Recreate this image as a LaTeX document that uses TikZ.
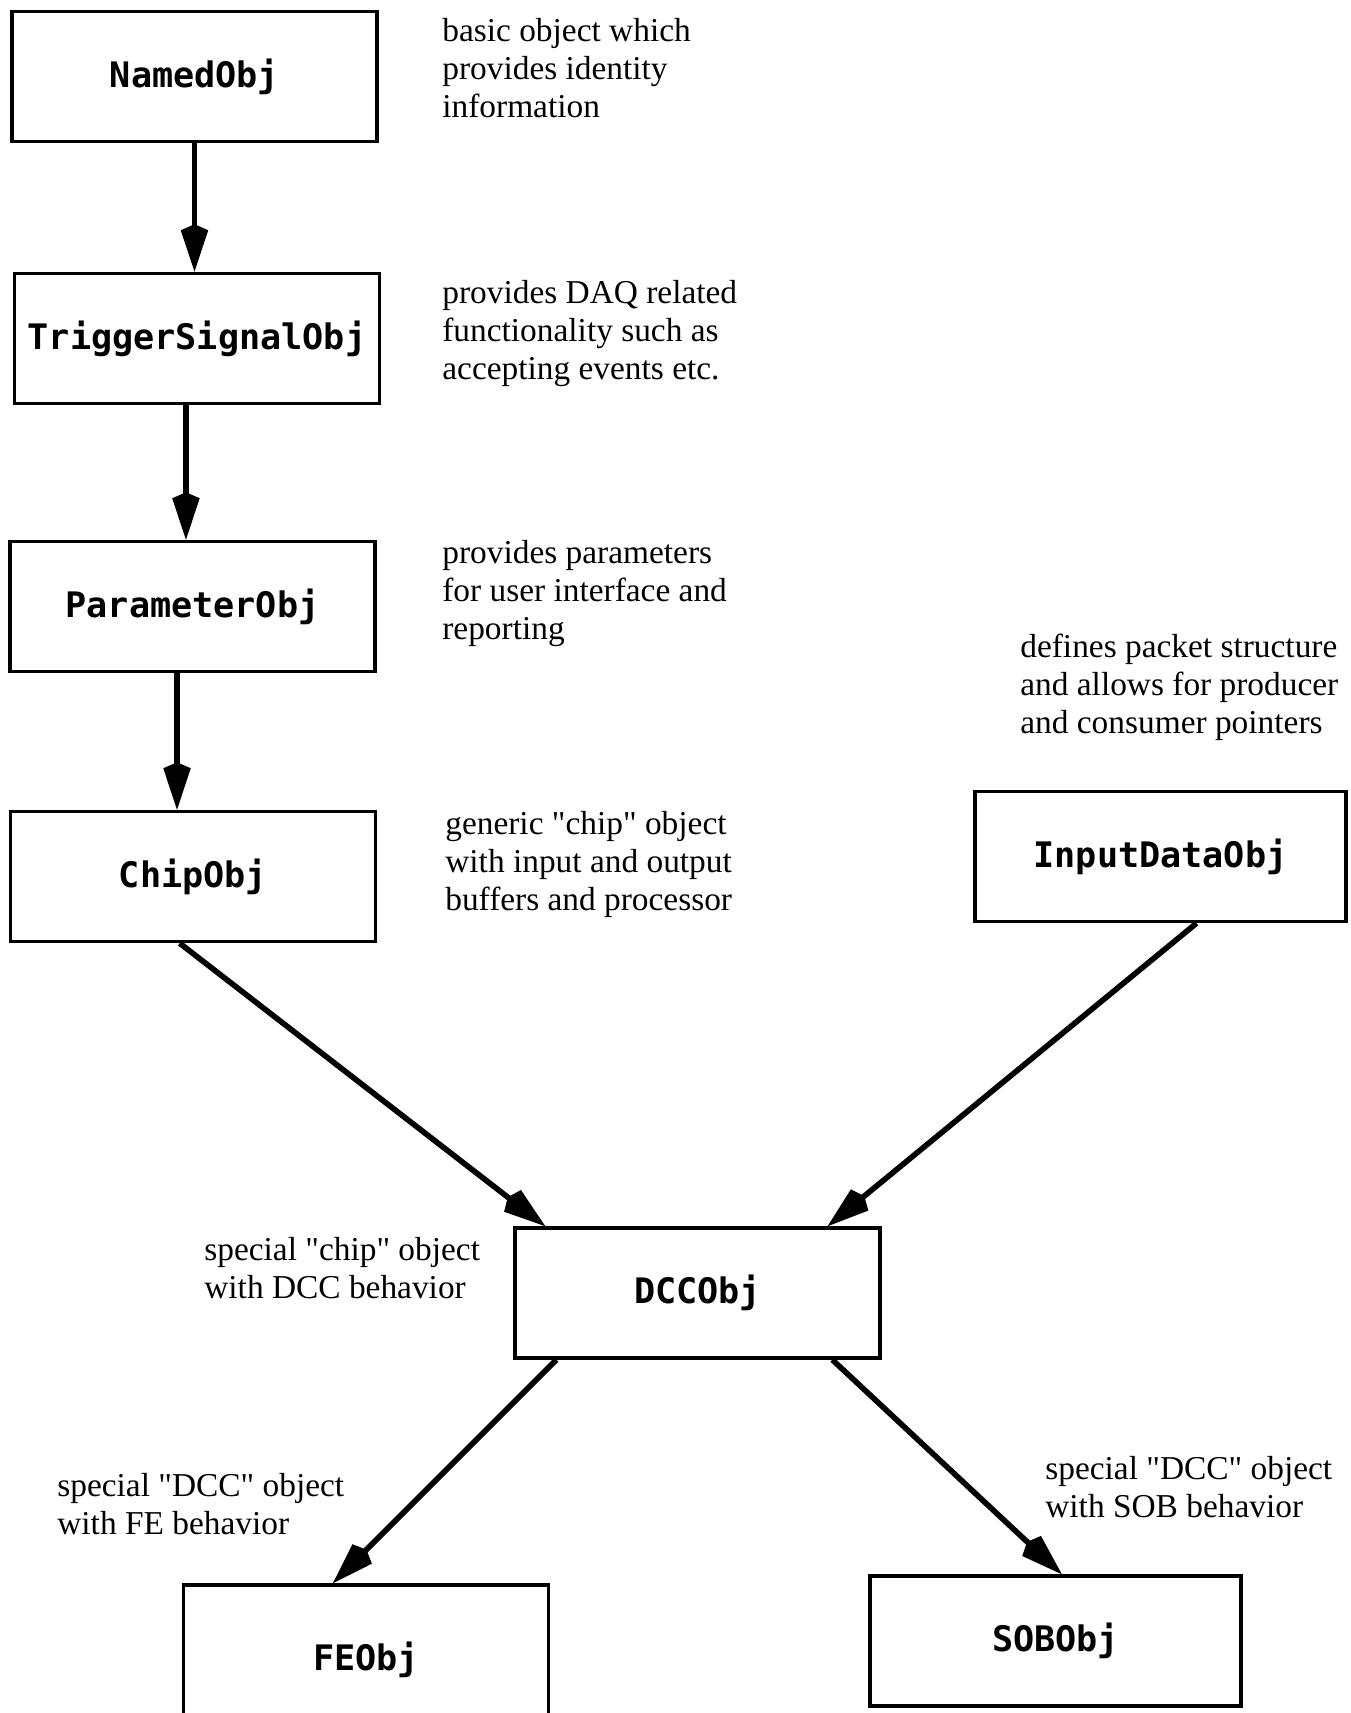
\documentclass[tikz,border=0pt]{standalone}
\usepackage{fontspec}
\setmainfont{Liberation Serif}
\newfontfamily\boxfont{DejaVu Sans Mono}
\usetikzlibrary{arrows.meta,calc}

\begin{document}
\begin{tikzpicture} [x = 0.02cm, y = -0.02cm,
        klasse/.style = {draw, line width=2pt, minimum width=7.3cm, minimum height=2.6cm,
                         font=\boxfont\bfseries\fontsize{20}{24}\selectfont},
        notiz/.style  = {anchor=north west, align=left, inner sep=0pt,
                         font=\fontsize{19}{21.5}\selectfont},
        pfeil/.style  = {line width=3.2pt, -{Kite[length=0.95cm, width=0.55cm, inset=0.12cm]}}]
            \useasboundingbox (0, 0) rectangle (1350, 1713);

            % Klassen
            \node[klasse] (named)   at (194.5, 76.5)  {NamedObj};
            \node[klasse] (trigger) at (197, 338.5)   {TriggerSignalObj};
            \node[klasse] (param)   at (192.5, 606.5) {ParameterObj};
            \node[klasse] (chip)    at (193, 876.5)   {ChipObj};
            \node[klasse, minimum width=7.42cm] (input) at (1160.5, 856.5) {InputDataObj};
            \node[klasse] (dcc)     at (697.5, 1293)  {DCCObj};
            \node[klasse, minimum height=3.0cm] (fe) at (366, 1660) {FEObj};
            \node[klasse, minimum width=7.42cm] (sob) at (1055.5, 1641) {SOBObj};

            % Ansatzpunkte
            \coordinate (trigger out) at ($(trigger.south west)!0.47!(trigger.south east)$);
            \coordinate (param out)   at ($(param.south west)!0.458!(param.south east)$);

            % Vererbung
            \draw[pfeil] (named.south) -- (named.south |- trigger.north);
            \draw[pfeil] (trigger out) -- (trigger out |- param.north);
            \draw[pfeil] (param out) -- (param out |- chip.north);
            \draw[pfeil] ($(chip.south west)!0.464!(chip.south east)$) -- ($(dcc.north west)!0.087!(dcc.north east)$);
            \draw[pfeil] ($(input.south west)!0.596!(input.south east)$) -- ($(dcc.north west)!0.853!(dcc.north east)$);
            \draw[pfeil] ($(dcc.south west)!0.117!(dcc.south east)$) -- ($(fe.north west)!0.41!(fe.north east)$);
            \draw[pfeil] ($(dcc.south west)!0.866!(dcc.south east)$) -- ($(sob.north west)!0.517!(sob.north east)$);

            % Beschreibungen
            \node[notiz] (t1) at (442, 18)   {basic object which\\provides identity\\information};
            \node[notiz] (t2) at (442, 280)  {provides DAQ related\\functionality such as\\accepting events etc.};
            \node[notiz] (t3) at (442, 540)  {provides parameters\\for user interface and\\reporting};
            \node[notiz] (t4) at (1020, 634) {defines packet structure\\and allows for producer\\and consumer pointers};
            \node[notiz] (t5) at (445, 811)  {generic \textquotedbl chip\textquotedbl{} object\\with input and output\\buffers and processor};
            \node[notiz] (t6) at (204, 1237) {special \textquotedbl chip\textquotedbl{} object\\with DCC behavior};
            \node[notiz] (t7) at (57, 1473)  {special \textquotedbl DCC\textquotedbl{} object\\with FE behavior};
            \node[notiz] (t8) at (1045, 1456) {special \textquotedbl DCC\textquotedbl{} object\\with SOB behavior};
        \end{tikzpicture}
\end{document}
